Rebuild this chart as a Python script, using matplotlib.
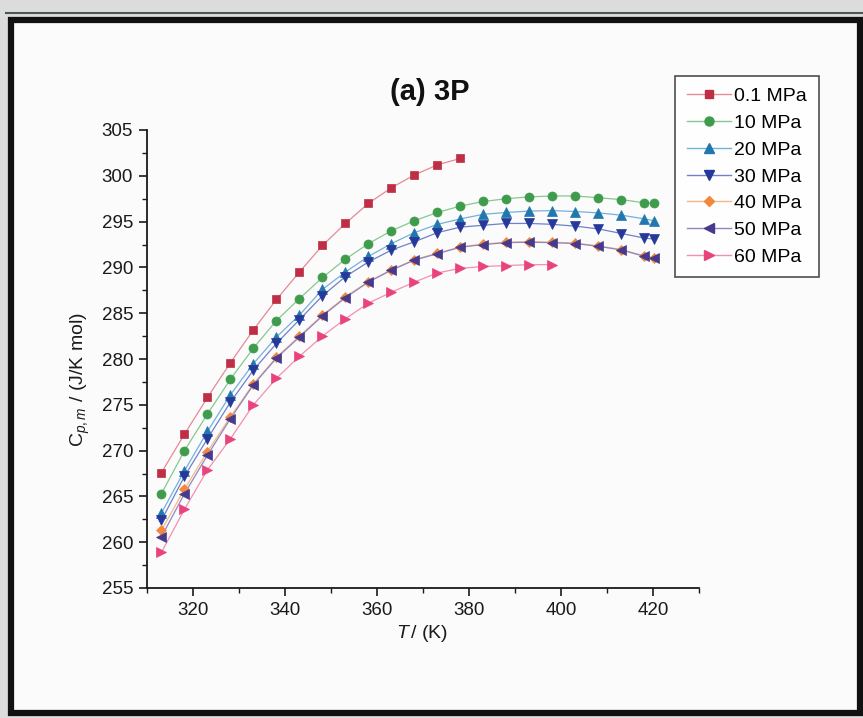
import matplotlib
matplotlib.use("Agg")
import matplotlib.pyplot as plt
from matplotlib.patches import Rectangle
from matplotlib.lines import Line2D
from matplotlib.ticker import MultipleLocator

plt.rcParams['font.family'] = ['Liberation Sans', 'DejaVu Sans']
plt.rcParams['mathtext.fontset'] = 'custom'
plt.rcParams['mathtext.rm'] = 'Liberation Sans'
plt.rcParams['mathtext.it'] = 'Liberation Sans:italic'

# ---- data ----
T_all = [313.15, 318.15, 323.15, 328.15, 333.15, 338.15, 343.15, 348.15, 353.15,
         358.15, 363.15, 368.15, 373.15, 378.15, 383.15, 388.15, 393.15, 398.15,
         403.15, 408.15, 413.15, 418.15, 420.15]
T_01 = T_all[:14]
T_60 = T_all[:18]

cp_01 = [267.6, 271.8, 275.8, 279.6, 283.2, 286.5, 289.5, 292.4, 294.8, 297.0,
         298.7, 300.1, 301.2, 301.9]
cp_10 = [265.3, 270.0, 274.0, 277.8, 281.2, 284.2, 286.6, 288.9, 290.9, 292.6,
         294.0, 295.1, 296.0, 296.7, 297.2, 297.5, 297.7, 297.8, 297.8, 297.6,
         297.4, 297.05, 297.0]
cp_20 = [263.2, 267.8, 272.1, 276.1, 279.5, 282.4, 284.8, 287.6, 289.5, 291.2,
         292.6, 293.8, 294.7, 295.3, 295.8, 296.0, 296.15, 296.2, 296.1, 295.95,
         295.7, 295.3, 295.1]
cp_30 = [262.4, 267.2, 271.3, 275.3, 278.8, 281.7, 284.3, 286.9, 289.0, 290.6,
         291.9, 292.8, 293.8, 294.4, 294.6, 294.8, 294.8, 294.7, 294.5, 294.2,
         293.7, 293.2, 293.1]
cp_40 = [261.3, 265.8, 269.9, 273.7, 277.3, 280.2, 282.5, 284.8, 286.8, 288.45,
         289.75, 290.85, 291.55, 292.25, 292.55, 292.75, 292.8, 292.75, 292.65, 292.35,
         291.95, 291.25, 291.05]
cp_50 = [260.6, 265.3, 269.5, 273.5, 277.2, 280.1, 282.4, 284.7, 286.7, 288.4,
         289.7, 290.8, 291.5, 292.2, 292.5, 292.7, 292.75, 292.7, 292.6, 292.3,
         291.9, 291.2, 291.0]
cp_60 = [258.9, 263.6, 267.9, 271.3, 275.0, 277.9, 280.3, 282.5, 284.4, 286.1,
         287.3, 288.4, 289.4, 289.9, 290.1, 290.2, 290.3, 290.3]

labels = ['0.1 MPa', '10 MPa', '20 MPa', '30 MPa', '40 MPa', '50 MPa', '60 MPa']
series = [(T_01, cp_01), (T_all, cp_10), (T_all, cp_20), (T_all, cp_30),
          (T_all, cp_40), (T_all, cp_50), (T_60, cp_60)]
markers = ['s', 'o', '^', 'v', 'D', '<', '>']
msizes = [6, 6.5, 7, 7, 5.0, 7, 7]
mcolors = ['#BE2E45', '#3E9C4C', '#2278AE', '#26399A', '#F2883E', '#463A8E', '#E8437C']
lcolors = ['#E58A96', '#86C890', '#72B2DA', '#7080CC', '#F6B888', '#9086C4', '#F290B4']

W, H = 863, 718
fig = plt.figure(figsize=(W / 100, H / 100), dpi=100)
fig.patch.set_facecolor('#dcdcdc')

# page frame
frame = Rectangle((11 / W, 1 - 713 / H), (860 - 11) / W, (713 - 20) / H,
                  transform=fig.transFigure, facecolor='#fbfbfb',
                  edgecolor='#111111', linewidth=4.5, zorder=-10)
fig.add_artist(frame)
fig.add_artist(Line2D([6 / W, 1.0], [1 - 13 / H, 1 - 13 / H], transform=fig.transFigure,
                      color='#4a5a50', linewidth=1.5, zorder=-9))

ax = fig.add_axes([147 / W, 1 - 588 / H, (699 - 147) / W, (588 - 130) / H])
ax.set_facecolor('none')
ax.set_zorder(1)

handles = []
for (t, c), lab, m, ms, mc, lc in zip(series, labels, markers, msizes, mcolors, lcolors):
    ax.plot(t, c, '-', color=lc, linewidth=0.9, zorder=2)
    ax.plot(t, c, linestyle='none', marker=m, markersize=ms, markerfacecolor=mc,
            markeredgecolor=mc, markeredgewidth=0.5, zorder=3)
    handles.append(Line2D([], [], color=lc, linewidth=1.0, marker=m, markersize=ms,
                          markerfacecolor=mc, markeredgecolor=mc, label=lab))

ax.set_xlim(310, 430)
ax.set_ylim(255, 305)
ax.xaxis.set_major_locator(MultipleLocator(20))
ax.xaxis.set_minor_locator(MultipleLocator(10))
ax.yaxis.set_major_locator(MultipleLocator(5))
ax.yaxis.set_minor_locator(MultipleLocator(2.5))
ax.set_xticks([320, 340, 360, 380, 400, 420])
for s in ['top', 'right']:
    ax.spines[s].set_visible(False)
for s in ['left', 'bottom']:
    ax.spines[s].set_linewidth(1.3)
    ax.spines[s].set_color('#1a1a1a')
ax.tick_params(which='major', direction='out', length=6, width=1.2, labelsize=13.5,
               colors='#1a1a1a', pad=4)
ax.tick_params(which='minor', direction='out', length=3.5, width=1.0, colors='#1a1a1a')

fig.text(80 / W, 1 - 380 / H, r'C$_{p,m}$ / (J/K mol)', rotation=90, ha='center',
         va='center', fontsize=14, color='#1a1a1a')
fig.text(422 / W, 1 - 634 / H, r'$T$$\,/$ (K)', ha='center', va='center',
         fontsize=14, color='#1a1a1a')
fig.text(430 / W, 1 - 92 / H, '(a) 3P', ha='center', va='center', fontsize=21,
         fontweight='bold', color='#111111')

leg = fig.legend(handles=handles, loc='upper left',
                 bbox_to_anchor=(675 / W, 1 - 76 / H), bbox_transform=fig.transFigure,
                 fontsize=14, frameon=True, fancybox=False, borderaxespad=0,
                 handlelength=2.3, handletextpad=0.15, labelspacing=0.47,
                 borderpad=0.6, numpoints=1)
leg.get_frame().set_edgecolor('#222222')
leg.get_frame().set_linewidth(1.2)
leg.get_frame().set_facecolor('#ffffff')

fig.savefig('out.png', dpi=100, facecolor=fig.get_facecolor())
